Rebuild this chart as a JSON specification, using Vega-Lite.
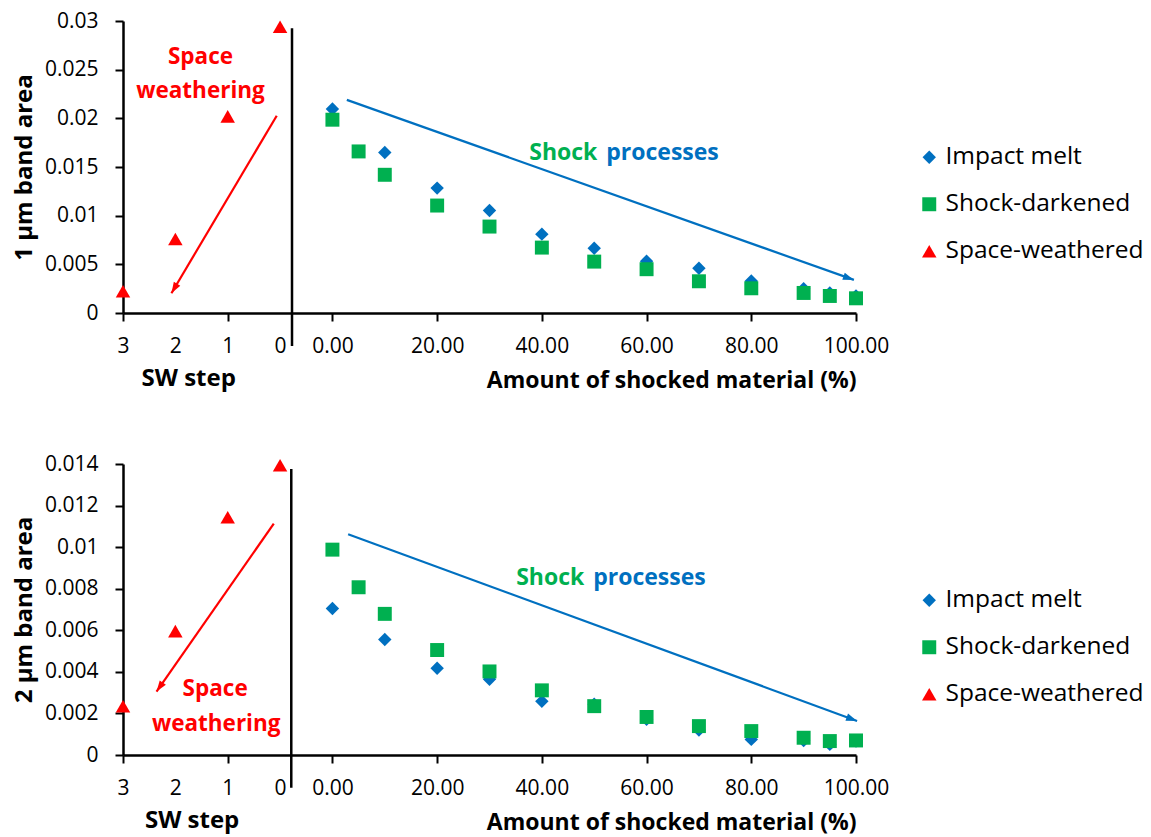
{
  "$schema": "https://vega.github.io/schema/vega-lite/v6.json",
  "padding": {"left": 12, "top": 10, "right": 5, "bottom": 5},
  "background": "white",
  "config": {
    "font": "Open Sans",
    "view": {"stroke": null},
    "axis": {
      "grid": false,
      "domainColor": "black",
      "domainWidth": 2.5,
      "tickColor": "black",
      "tickWidth": 2,
      "tickSize": 8,
      "labelFont": "Open Sans",
      "labelFontSize": 21,
      "labelColor": "black",
      "labelFlush": false,
      "labelOverlap": false,
      "titleFont": "Open Sans",
      "titleFontSize": 23,
      "titleFontWeight": "bold",
      "titleColor": "black"
    },
    "legend": {
      "orient": "none",
      "legendX": 794,
      "legendY": 124,
      "title": null,
      "labelFont": "Open Sans",
      "labelFontSize": 24.5,
      "labelColor": "black",
      "labelLimit": 0,
      "labelOffset": 4,
      "rowPadding": 22,
      "symbolStrokeWidth": 0,
      "symbolSize": 170
    }
  },
  "datasets": {
    "band1": [
      {"series": "Impact melt", "x": 0, "y": 0.02096},
      {"series": "Impact melt", "x": 10, "y": 0.01649},
      {"series": "Impact melt", "x": 20, "y": 0.01283},
      {"series": "Impact melt", "x": 30, "y": 0.01053},
      {"series": "Impact melt", "x": 40, "y": 0.0081},
      {"series": "Impact melt", "x": 50, "y": 0.00666},
      {"series": "Impact melt", "x": 60, "y": 0.00532},
      {"series": "Impact melt", "x": 70, "y": 0.0046},
      {"series": "Impact melt", "x": 80, "y": 0.00329},
      {"series": "Impact melt", "x": 90, "y": 0.0025},
      {"series": "Impact melt", "x": 95, "y": 0.00206},
      {"series": "Impact melt", "x": 100, "y": 0.00175},
      {"series": "Shock-darkened", "x": 0, "y": 0.01986},
      {"series": "Shock-darkened", "x": 5, "y": 0.0166},
      {"series": "Shock-darkened", "x": 10, "y": 0.0142},
      {"series": "Shock-darkened", "x": 20, "y": 0.01104},
      {"series": "Shock-darkened", "x": 30, "y": 0.00888},
      {"series": "Shock-darkened", "x": 40, "y": 0.00672},
      {"series": "Shock-darkened", "x": 50, "y": 0.00528},
      {"series": "Shock-darkened", "x": 60, "y": 0.0045},
      {"series": "Shock-darkened", "x": 70, "y": 0.00326},
      {"series": "Shock-darkened", "x": 80, "y": 0.00254},
      {"series": "Shock-darkened", "x": 90, "y": 0.00206},
      {"series": "Shock-darkened", "x": 95, "y": 0.00175},
      {"series": "Shock-darkened", "x": 100, "y": 0.00151},
      {"series": "Space-weathered", "x": -40, "y": 0.00223},
      {"series": "Space-weathered", "x": -30, "y": 0.0076},
      {"series": "Space-weathered", "x": -20, "y": 0.0202},
      {"series": "Space-weathered", "x": -10, "y": 0.0294}
    ],
    "band2": [
      {"series": "Impact melt", "x": 0, "y": 0.00705},
      {"series": "Impact melt", "x": 10, "y": 0.00556},
      {"series": "Impact melt", "x": 20, "y": 0.00417},
      {"series": "Impact melt", "x": 30, "y": 0.00364},
      {"series": "Impact melt", "x": 40, "y": 0.00258},
      {"series": "Impact melt", "x": 50, "y": 0.00244},
      {"series": "Impact melt", "x": 60, "y": 0.00172},
      {"series": "Impact melt", "x": 70, "y": 0.0012},
      {"series": "Impact melt", "x": 80, "y": 0.00075},
      {"series": "Impact melt", "x": 90, "y": 0.0007},
      {"series": "Impact melt", "x": 95, "y": 0.00051},
      {"series": "Impact melt", "x": 100, "y": 0.00067},
      {"series": "Shock-darkened", "x": 0, "y": 0.00988},
      {"series": "Shock-darkened", "x": 5, "y": 0.00807},
      {"series": "Shock-darkened", "x": 10, "y": 0.00679},
      {"series": "Shock-darkened", "x": 20, "y": 0.00505},
      {"series": "Shock-darkened", "x": 30, "y": 0.00402},
      {"series": "Shock-darkened", "x": 40, "y": 0.00311},
      {"series": "Shock-darkened", "x": 50, "y": 0.00235},
      {"series": "Shock-darkened", "x": 60, "y": 0.00183},
      {"series": "Shock-darkened", "x": 70, "y": 0.00139},
      {"series": "Shock-darkened", "x": 80, "y": 0.00115},
      {"series": "Shock-darkened", "x": 90, "y": 0.00083},
      {"series": "Shock-darkened", "x": 95, "y": 0.00067},
      {"series": "Shock-darkened", "x": 100, "y": 0.0007},
      {"series": "Space-weathered", "x": -40, "y": 0.00235},
      {"series": "Space-weathered", "x": -30, "y": 0.00596},
      {"series": "Space-weathered", "x": -20, "y": 0.01144},
      {"series": "Space-weathered", "x": -10, "y": 0.01394}
    ],
    "divider1": [{"x": -7.72, "y": 0.02925, "y2": -0.00339}],
    "divider2": [{"x": -7.86, "y": 0.01376, "y2": -0.00157}],
    "arrows1": [
      {"process": "space weathering", "x": -10.64, "y": 0.02027, "x2": -30.75, "y2": 0.00203},
      {"process": "shock", "x": 2.75, "y": 0.0219, "x2": 99.6, "y2": 0.0034}
    ],
    "arrows2": [
      {"process": "space weathering", "x": -11.2, "y": 0.01113, "x2": -33.6, "y2": 0.00305},
      {"process": "shock", "x": 3.0, "y": 0.01062, "x2": 100.2, "y2": 0.00164}
    ],
    "notes1": [
      {"label": "Space", "x": -25.2, "y": 0.0263},
      {"label": "weathering", "x": -25.2, "y": 0.02281},
      {"label": "Shock", "x": 50.6, "y": 0.01647},
      {"label": "processes", "x": 52.3, "y": 0.01647},
      {"label": "SW step", "x": -27.45, "y": -0.00678}
    ],
    "notes2": [
      {"label": "Space", "x": -22.4, "y": 0.00316},
      {"label": "weathering", "x": -22.2, "y": 0.00151},
      {"label": "Shock", "x": 48.1, "y": 0.00853},
      {"label": "processes", "x": 49.8, "y": 0.00853},
      {"label": "SW step", "x": -26.8, "y": -0.00318}
    ]
  },
  "spacing": 61,
  "resolve": {
    "scale": {"y": "independent", "color": "independent", "shape": "independent", "size": "independent"}
  },
  "vconcat": [
    {
      "width": 733,
      "height": 292,
      "layer": [
        {
          "data": {"name": "divider1"},
          "mark": {"type": "rule", "color": "black", "strokeWidth": 2.5, "clip": false},
          "encoding": {
            "x": {"field": "x", "type": "quantitative"},
            "y": {"field": "y", "type": "quantitative"},
            "y2": {"field": "y2"}
          }
        },
        {
          "data": {"name": "band1"},
          "mark": {"type": "point", "filled": true, "opacity": 1, "strokeWidth": 0},
          "encoding": {
            "x": {
              "field": "x", "type": "quantitative",
              "scale": {"domain": [-40, 100], "nice": false, "zero": false},
              "axis": {
                "title": "Amount of shocked material (%)",
                "titleAnchor": "end",
                "titlePadding": 13,
                "values": [-40, -30, -20, -10, 0, 20, 40, 60, 80, 100],
                "labelExpr": "datum.value < 0 ? toString(-datum.value / 10 - 1) : format(datum.value, '.2f')",
                "labelPadding": 14,
                "tickOpacity": {"condition": {"test": "datum.value == -30 || datum.value == -10", "value": 0}, "value": 1}
              }
            },
            "y": {
              "field": "y", "type": "quantitative",
              "scale": {"domain": [0, 0.03], "nice": false},
              "axis": {
                "title": "1 µm band area",
                "titleFontSize": 24,
                "values": [0, 0.005, 0.01, 0.015, 0.02, 0.025, 0.03],
                "format": ".3~f",
                "labelPadding": 17,
                "titlePadding": 8
              }
            },
            "color": {
              "field": "series", "type": "nominal",
              "scale": {"domain": ["Impact melt", "Shock-darkened", "Space-weathered"], "range": ["#0070C0", "#00B050", "#FF0000"]}
            },
            "shape": {
              "field": "series", "type": "nominal",
              "scale": {"domain": ["Impact melt", "Shock-darkened", "Space-weathered"], "range": ["diamond", "square", "triangle-up"]}
            },
            "size": {
              "field": "series", "type": "nominal",
              "scale": {"domain": ["Impact melt", "Shock-darkened", "Space-weathered"], "range": [180, 210, 200]}
            }
          }
        },
        {
          "data": {"name": "arrows1"},
          "transform": [{"filter": "datum.process == 'space weathering'"}],
          "layer": [
            {
              "mark": {"type": "rule", "color": "#FF0000", "strokeWidth": 2.2, "clip": false},
              "encoding": {
                "x": {"field": "x", "type": "quantitative"},
                "y": {"field": "y", "type": "quantitative"},
                "x2": {"field": "x2"},
                "y2": {"field": "y2"}
              }
            },
            {
              "mark": {"type": "point", "shape": "M0,0L-0.75,2.2L0.75,2.2Z", "filled": true, "color": "#FF0000", "opacity": 1, "strokeWidth": 0, "size": 100, "angle": 210.7},
              "encoding": {
                "x": {"field": "x2", "type": "quantitative"},
                "y": {"field": "y2", "type": "quantitative"}
              }
            }
          ]
        },
        {
          "data": {"name": "arrows1"},
          "transform": [{"filter": "datum.process == 'shock'"}],
          "layer": [
            {
              "mark": {"type": "rule", "color": "#0070C0", "strokeWidth": 2.2, "clip": false},
              "encoding": {
                "x": {"field": "x", "type": "quantitative"},
                "y": {"field": "y", "type": "quantitative"},
                "x2": {"field": "x2"},
                "y2": {"field": "y2"}
              }
            },
            {
              "mark": {"type": "point", "shape": "M0,0L-0.75,2.2L0.75,2.2Z", "filled": true, "color": "#0070C0", "opacity": 1, "strokeWidth": 0, "size": 100, "angle": 109.5},
              "encoding": {
                "x": {"field": "x2", "type": "quantitative"},
                "y": {"field": "y2", "type": "quantitative"}
              }
            }
          ]
        },
        {
          "data": {"name": "notes1"},
          "transform": [{"filter": "datum.label == 'Space' || datum.label == 'weathering'"}],
          "mark": {"type": "text", "color": "#FF0000", "fontSize": 22.5, "fontWeight": "bold", "align": "center", "baseline": "middle"},
          "encoding": {
            "x": {"field": "x", "type": "quantitative"},
            "y": {"field": "y", "type": "quantitative"},
            "text": {"field": "label"}
          }
        },
        {
          "data": {"name": "notes1"},
          "transform": [{"filter": "datum.label == 'Shock'"}],
          "mark": {"type": "text", "color": "#00B050", "fontSize": 23, "fontWeight": "bold", "align": "right", "baseline": "middle"},
          "encoding": {
            "x": {"field": "x", "type": "quantitative"},
            "y": {"field": "y", "type": "quantitative"},
            "text": {"field": "label"}
          }
        },
        {
          "data": {"name": "notes1"},
          "transform": [{"filter": "datum.label == 'processes'"}],
          "mark": {"type": "text", "color": "#0070C0", "fontSize": 23, "fontWeight": "bold", "align": "left", "baseline": "middle"},
          "encoding": {
            "x": {"field": "x", "type": "quantitative"},
            "y": {"field": "y", "type": "quantitative"},
            "text": {"field": "label"}
          }
        },
        {
          "data": {"name": "notes1"},
          "transform": [{"filter": "datum.label == 'SW step'"}],
          "mark": {"type": "text", "color": "black", "fontSize": 24, "fontWeight": "bold", "align": "center", "baseline": "middle"},
          "encoding": {
            "x": {"field": "x", "type": "quantitative"},
            "y": {"field": "y", "type": "quantitative"},
            "text": {"field": "label"}
          }
        }
      ]
    },
    {
      "width": 733,
      "height": 291,
      "layer": [
        {
          "data": {"name": "divider2"},
          "mark": {"type": "rule", "color": "black", "strokeWidth": 2.5, "clip": false},
          "encoding": {
            "x": {"field": "x", "type": "quantitative"},
            "y": {"field": "y", "type": "quantitative"},
            "y2": {"field": "y2"}
          }
        },
        {
          "data": {"name": "band2"},
          "mark": {"type": "point", "filled": true, "opacity": 1, "strokeWidth": 0},
          "encoding": {
            "x": {
              "field": "x", "type": "quantitative",
              "scale": {"domain": [-40, 100], "nice": false, "zero": false},
              "axis": {
                "title": "Amount of shocked material (%)",
                "titleAnchor": "end",
                "titlePadding": 13,
                "values": [-40, -30, -20, -10, 0, 20, 40, 60, 80, 100],
                "labelExpr": "datum.value < 0 ? toString(-datum.value / 10 - 1) : format(datum.value, '.2f')",
                "labelPadding": 14,
                "tickOpacity": {"condition": {"test": "datum.value == -30 || datum.value == -10", "value": 0}, "value": 1}
              }
            },
            "y": {
              "field": "y", "type": "quantitative",
              "scale": {"domain": [0, 0.014], "nice": false},
              "axis": {
                "title": "2 µm band area",
                "titleFontSize": 24,
                "values": [0, 0.002, 0.004, 0.006, 0.008, 0.01, 0.012, 0.014],
                "format": ".3~f",
                "labelPadding": 17,
                "titlePadding": 8
              }
            },
            "color": {
              "field": "series", "type": "nominal",
              "scale": {"domain": ["Impact melt", "Shock-darkened", "Space-weathered"], "range": ["#0070C0", "#00B050", "#FF0000"]}
            },
            "shape": {
              "field": "series", "type": "nominal",
              "scale": {"domain": ["Impact melt", "Shock-darkened", "Space-weathered"], "range": ["diamond", "square", "triangle-up"]}
            },
            "size": {
              "field": "series", "type": "nominal",
              "scale": {"domain": ["Impact melt", "Shock-darkened", "Space-weathered"], "range": [180, 210, 200]}
            }
          }
        },
        {
          "data": {"name": "arrows2"},
          "transform": [{"filter": "datum.process == 'space weathering'"}],
          "layer": [
            {
              "mark": {"type": "rule", "color": "#FF0000", "strokeWidth": 2.2, "clip": false},
              "encoding": {
                "x": {"field": "x", "type": "quantitative"},
                "y": {"field": "y", "type": "quantitative"},
                "x2": {"field": "x2"},
                "y2": {"field": "y2"}
              }
            },
            {
              "mark": {"type": "point", "shape": "M0,0L-0.75,2.2L0.75,2.2Z", "filled": true, "color": "#FF0000", "opacity": 1, "strokeWidth": 0, "size": 100, "angle": 214.9},
              "encoding": {
                "x": {"field": "x2", "type": "quantitative"},
                "y": {"field": "y2", "type": "quantitative"}
              }
            }
          ]
        },
        {
          "data": {"name": "arrows2"},
          "transform": [{"filter": "datum.process == 'shock'"}],
          "layer": [
            {
              "mark": {"type": "rule", "color": "#0070C0", "strokeWidth": 2.2, "clip": false},
              "encoding": {
                "x": {"field": "x", "type": "quantitative"},
                "y": {"field": "y", "type": "quantitative"},
                "x2": {"field": "x2"},
                "y2": {"field": "y2"}
              }
            },
            {
              "mark": {"type": "point", "shape": "M0,0L-0.75,2.2L0.75,2.2Z", "filled": true, "color": "#0070C0", "opacity": 1, "strokeWidth": 0, "size": 100, "angle": 110.1},
              "encoding": {
                "x": {"field": "x2", "type": "quantitative"},
                "y": {"field": "y2", "type": "quantitative"}
              }
            }
          ]
        },
        {
          "data": {"name": "notes2"},
          "transform": [{"filter": "datum.label == 'Space' || datum.label == 'weathering'"}],
          "mark": {"type": "text", "color": "#FF0000", "fontSize": 22.5, "fontWeight": "bold", "align": "center", "baseline": "middle"},
          "encoding": {
            "x": {"field": "x", "type": "quantitative"},
            "y": {"field": "y", "type": "quantitative"},
            "text": {"field": "label"}
          }
        },
        {
          "data": {"name": "notes2"},
          "transform": [{"filter": "datum.label == 'Shock'"}],
          "mark": {"type": "text", "color": "#00B050", "fontSize": 23, "fontWeight": "bold", "align": "right", "baseline": "middle"},
          "encoding": {
            "x": {"field": "x", "type": "quantitative"},
            "y": {"field": "y", "type": "quantitative"},
            "text": {"field": "label"}
          }
        },
        {
          "data": {"name": "notes2"},
          "transform": [{"filter": "datum.label == 'processes'"}],
          "mark": {"type": "text", "color": "#0070C0", "fontSize": 23, "fontWeight": "bold", "align": "left", "baseline": "middle"},
          "encoding": {
            "x": {"field": "x", "type": "quantitative"},
            "y": {"field": "y", "type": "quantitative"},
            "text": {"field": "label"}
          }
        },
        {
          "data": {"name": "notes2"},
          "transform": [{"filter": "datum.label == 'SW step'"}],
          "mark": {"type": "text", "color": "black", "fontSize": 24, "fontWeight": "bold", "align": "center", "baseline": "middle"},
          "encoding": {
            "x": {"field": "x", "type": "quantitative"},
            "y": {"field": "y", "type": "quantitative"},
            "text": {"field": "label"}
          }
        }
      ]
    }
  ]
}
